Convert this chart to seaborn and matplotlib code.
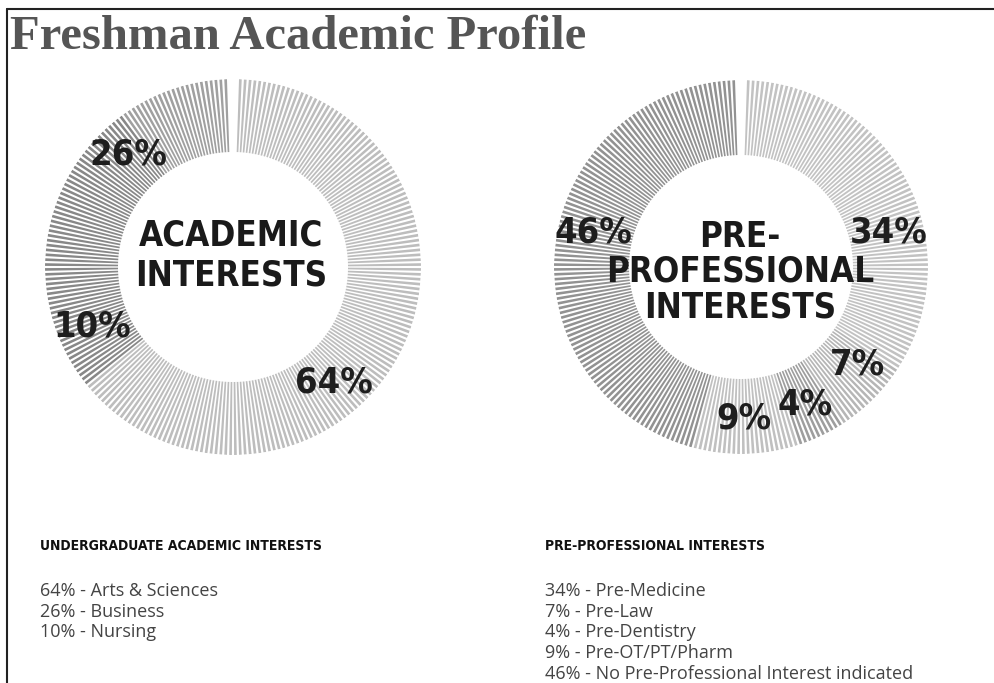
import numpy as np
import matplotlib
matplotlib.use("Agg")
from matplotlib import pyplot as plt
from matplotlib.lines import Line2D
import seaborn as sns

# ---- data -------------------------------------------------------------
academic_labels = ["Arts & Sciences", "Business", "Nursing"]
academic_values = [64, 26, 10]
academic_colors = ["#bdbdbd", "#888888", "#a0a0a0"]

prepro_labels = ["Pre-Medicine", "Pre-Law", "Pre-Dentistry", "Pre-OT/PT/Pharm",
                 "No Pre-Professional Interest indicated"]
prepro_values = [34, 7, 4, 9, 46]
prepro_colors = ["#c2c2c2", "#b6b6b6", "#9e9e9e", "#c0c0c0", "#929292"]

# where each percentage label sits (degrees clockwise from top)
academic_label_angles = [139, 317, 247]
prepro_label_angles = [77, 130, 155, 179, 283]

W, H = 995, 683
COND = dict(family=["DejaVu Sans"], fontstretch="condensed", fontweight="bold")

sns.set_theme(style="white")
plt.rcParams["font.family"] = ["DejaVu Sans"]

fig = plt.figure(figsize=(W / 100, H / 100), dpi=100)
fig.patch.set_facecolor("white")


def px(x, y):
    return x / W, 1 - y / H


def donut(cx, cy, r_out, r_in, values, colors, label_angles, step=1.5):
    ax = fig.add_axes([(cx - r_out) / W, (H - cy - r_out) / H,
                       2 * r_out / W, 2 * r_out / H], projection="polar")
    ax.set_theta_zero_location("N")
    ax.set_theta_direction(-1)
    bounds = np.cumsum([0] + list(values)) / sum(values) * 360
    n = int(round(360 / step))
    ang = (np.arange(n) + 0.5) * step
    seg = np.searchsorted(bounds, ang, side="right") - 1
    keep = (ang > step) & (ang < 360 - step / 2)
    ax.bar(np.deg2rad(ang[keep]), r_out - r_in, width=np.deg2rad(step * 0.55),
           bottom=r_in, color=[colors[s] for s in seg[keep]], linewidth=0)
    for v, a in zip(values, label_angles):
        ax.text(np.deg2rad(a), (r_out + r_in) / 2 + 2, f"{v}%", ha="center",
                va="center", fontsize=26, color="#1e1e1e", **COND)
    ax.set_ylim(0, r_out)
    ax.set_axis_off()
    return ax


donut(233, 267, 188, 115, academic_values, academic_colors, academic_label_angles)
donut(741, 267, 187, 112, prepro_values, prepro_colors, prepro_label_angles)

# centre captions
for txt, y in [("ACADEMIC", 236), ("INTERESTS", 275)]:
    fig.text(*px(231, y), txt, ha="center", va="center", fontsize=25,
             color="#1a1a1a", **COND)
for txt, y in [("PRE-", 237), ("PROFESSIONAL", 272), ("INTERESTS", 307)]:
    fig.text(*px(740, y), txt, ha="center", va="center", fontsize=25,
             color="#1a1a1a", **COND)

# title
fig.text(*px(10, 49), "Freshman Academic Profile", ha="left", va="baseline",
         fontsize=35, fontweight="bold", family=["Liberation Serif", "DejaVu Serif"],
         color="#555555")

# legends
fig.text(*px(40, 546), "UNDERGRADUATE ACADEMIC INTERESTS", ha="left", va="center",
         fontsize=10, color="#111111", **COND)
for i, (v, lab) in enumerate(zip(academic_values, academic_labels)):
    fig.text(*px(40, 591 + i * 20.7), f"{v}% - {lab}", ha="left", va="center",
             fontsize=13, family=["Open Sans", "DejaVu Sans"], color="#444444")

fig.text(*px(545, 546), "PRE-PROFESSIONAL INTERESTS", ha="left", va="center",
         fontsize=10, color="#111111", **COND)
for i, (v, lab) in enumerate(zip(prepro_values, prepro_labels)):
    fig.text(*px(545, 591 + i * 20.7), f"{v}% - {lab}", ha="left", va="center",
             fontsize=13, family=["Open Sans", "DejaVu Sans"], color="#444444")

# frame lines
fig.add_artist(Line2D([7 / W, 1], [1 - 9 / H] * 2, color="#222222", lw=1.5,
                      transform=fig.transFigure))
fig.add_artist(Line2D([7 / W] * 2, [0, 1 - 9 / H], color="#222222", lw=1.5,
                      transform=fig.transFigure))

fig.savefig("out.png", dpi=100, facecolor="white")
